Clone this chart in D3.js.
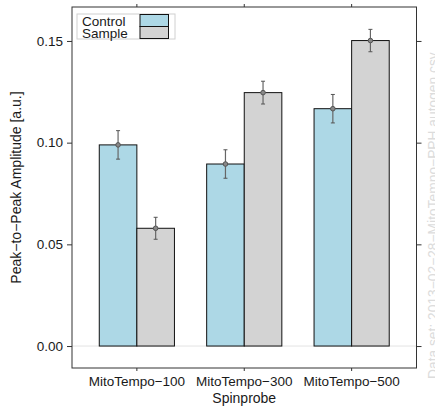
<!DOCTYPE html>
<html>
<head>
<meta charset="utf-8">
<script src="https://cdn.jsdelivr.net/npm/d3@7"></script>
<style>
  html, body { margin: 0; padding: 0; background: #fff; }
  svg { display: block; font-family: "Liberation Sans", Arial, Helvetica, sans-serif; }
</style>
</head>
<body>
<svg id="chart" width="435" height="410"></svg>
<script>
// Peak-to-peak amplitude per spin probe, control vs. sample (mean ± error)
const categories = ["MitoTempo\u2212100", "MitoTempo\u2212300", "MitoTempo\u2212500"];
const groups = ["Control", "Sample"];
const controlValues = [0.0989, 0.0895, 0.1167];
const sampleValues  = [0.0579, 0.1246, 0.1502];
const controlErrors = [0.0070, 0.0070, 0.0070];
const sampleErrors  = [0.0054, 0.0056, 0.0055];
const yTicks = [0.00, 0.05, 0.10, 0.15];
const yTickLabels = ["0.00", "0.05", "0.10", "0.15"];
const xTitle = "Spinprobe";
const yTitle = "Peak\u2212to\u2212Peak Amplitude [a.u.]";
const sourceNote = "Data set: 2013\u221202\u221228\u2212MitoTempo\u2212PPH autogen.csv";

const colors = { Control: "#ADD8E6", Sample: "#D3D3D3" };

const rows = [];
categories.forEach((c, i) => {
  rows.push({ cat: c, group: "Control", value: controlValues[i], err: controlErrors[i] });
  rows.push({ cat: c, group: "Sample",  value: sampleValues[i],  err: sampleErrors[i] });
});

const plot = { left: 72, right: 416.5, top: 7, bottom: 368 };
const svg = d3.select("#chart");

const y = d3.scaleLinear().domain([-0.0108, 0.1667]).range([plot.bottom, plot.top]);
const x = d3.scaleBand().domain(categories).range([plot.left, plot.right])
  .paddingInner(0.3).paddingOuter(0.254);
const xInner = d3.scaleBand().domain(groups).range([0, x.bandwidth()]);

const textCol = "#1a1a1a";
const frameCol = "#333";

// zero reference line
svg.append("line")
  .attr("x1", plot.left).attr("x2", plot.right)
  .attr("y1", y(0)).attr("y2", y(0))
  .attr("stroke", "#e3e3e3").attr("stroke-width", 1);

// bars
svg.append("g").selectAll("rect").data(rows).join("rect")
  .attr("x", d => x(d.cat) + xInner(d.group))
  .attr("width", xInner.bandwidth())
  .attr("y", d => y(d.value))
  .attr("height", d => y(0) - y(d.value))
  .attr("fill", d => colors[d.group])
  .attr("stroke", "#111").attr("stroke-width", 1);

// error bars with mean points
const eb = svg.append("g").selectAll("g").data(rows).join("g")
  .attr("transform", d => `translate(${x(d.cat) + xInner(d.group) + xInner.bandwidth() / 2},0)`);
eb.append("line")
  .attr("y1", d => y(d.value + d.err)).attr("y2", d => y(d.value - d.err))
  .attr("stroke", "#666").attr("stroke-width", 1.2);
eb.append("line")
  .attr("x1", -2).attr("x2", 2)
  .attr("y1", d => y(d.value + d.err)).attr("y2", d => y(d.value + d.err))
  .attr("stroke", "#555").attr("stroke-width", 1);
eb.append("line")
  .attr("x1", -2).attr("x2", 2)
  .attr("y1", d => y(d.value - d.err)).attr("y2", d => y(d.value - d.err))
  .attr("stroke", "#555").attr("stroke-width", 1);
eb.append("circle")
  .attr("cy", d => y(d.value)).attr("r", 2.3)
  .attr("fill", "#888").attr("stroke", "#555").attr("stroke-width", 1);

// frame
svg.append("rect")
  .attr("x", plot.left).attr("y", plot.top)
  .attr("width", plot.right - plot.left).attr("height", plot.bottom - plot.top)
  .attr("fill", "none").attr("stroke", frameCol).attr("stroke-width", 1);

// axes
const fontSize = 13.5;
const yAxisLeft = svg.append("g").attr("transform", `translate(${plot.left},0)`)
  .call(d3.axisLeft(y).tickValues(yTicks).tickFormat((d, i) => yTickLabels[i]).tickSize(5).tickPadding(4));
const yAxisRight = svg.append("g").attr("transform", `translate(${plot.right},0)`)
  .call(d3.axisRight(y).tickValues(yTicks).tickFormat("").tickSize(5));
const xAxisBottom = svg.append("g").attr("transform", `translate(0,${plot.bottom})`)
  .call(d3.axisBottom(x).tickSize(3).tickPadding(5));
const xAxisTop = svg.append("g").attr("transform", `translate(0,${plot.top})`)
  .call(d3.axisTop(x).tickSize(3).tickFormat(""));
[yAxisLeft, yAxisRight, xAxisBottom, xAxisTop].forEach(g => {
  g.select(".domain").remove();
  g.selectAll(".tick line").attr("stroke", frameCol);
  g.selectAll(".tick text").attr("fill", textCol)
    .style("font-size", fontSize + "px").style("font-family", "inherit");
});

// axis titles
svg.append("text")
  .attr("x", (plot.left + plot.right) / 2).attr("y", 403)
  .attr("text-anchor", "middle").attr("fill", textCol)
  .style("font-size", "14px").text(xTitle);
svg.append("text")
  .attr("transform", `translate(21,${(plot.top + plot.bottom) / 2}) rotate(-90)`)
  .attr("text-anchor", "middle").attr("fill", textCol)
  .style("font-size", "14px").text(yTitle);

// source note along the right edge
svg.append("text")
  .attr("transform", `translate(438,379) rotate(-90)`)
  .attr("text-anchor", "start").attr("fill", "#dcdcdc")
  .style("font-size", "13.8px").text(sourceNote);

// legend
const legend = svg.append("g");
legend.append("rect")
  .attr("x", 77).attr("y", 14).attr("width", 98).attr("height", 25)
  .attr("fill", "#fff").attr("stroke", "#d0d0d0").attr("stroke-width", 1);
groups.forEach((g, i) => {
  legend.append("rect")
    .attr("x", 140).attr("y", 14.5 + i * 12).attr("width", 28.5).attr("height", 12)
    .attr("fill", colors[g]).attr("stroke", "#111").attr("stroke-width", 1);
  legend.append("text")
    .attr("x", 82).attr("y", 26 + i * 11.6)
    .attr("fill", textCol).style("font-size", fontSize + "px").text(g);
});
</script>
</body>
</html>
